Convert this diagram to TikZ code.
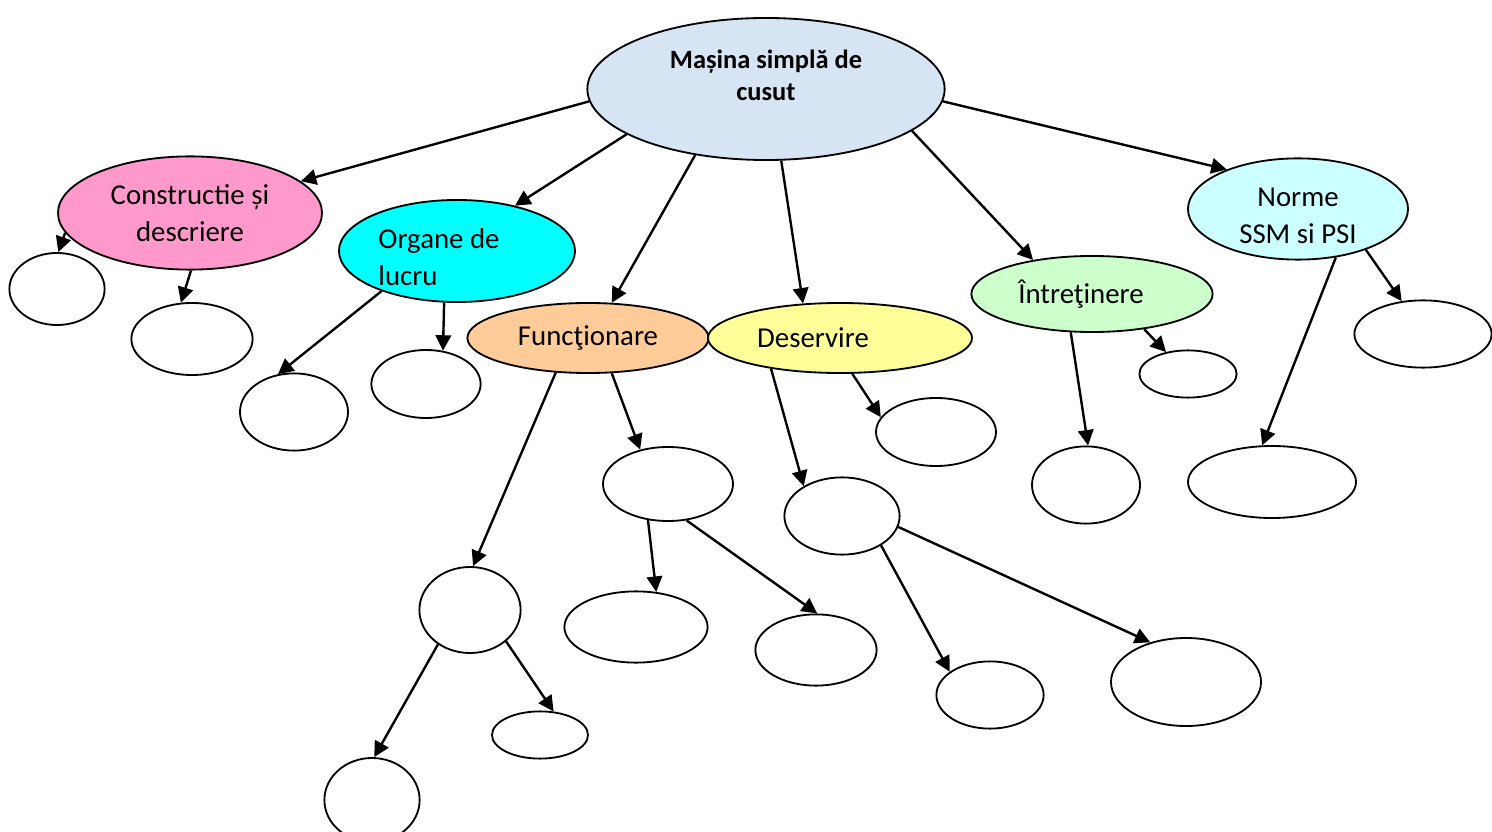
\documentclass[tikz,border=0pt]{standalone}
\usepackage{fontspec}
\setmainfont{Carlito}
\usepackage{xcolor}
\usepackage{tikz}
\usetikzlibrary{shapes,arrows.meta,positioning}

\definecolor{rootblue}{RGB}{214,228,243}
\definecolor{consfill}{RGB}{255,153,204}
\definecolor{orgfill}{RGB}{0,255,255}
\definecolor{funfill}{RGB}{255,204,153}
\definecolor{desfill}{RGB}{255,255,153}
\definecolor{intrfill}{RGB}{204,255,204}
\definecolor{normfill}{RGB}{204,255,255}

\begin{document}
\begin{tikzpicture}[
    x=0.025cm, y=-0.025cm,
    topic/.style={ellipse, draw, line width=1.3pt, inner sep=1pt, fill=rootblue, align=center, font=\bfseries\fontsize{18.8}{22.8}\selectfont},
    branch/.style={ellipse, draw, line width=1.3pt, inner sep=1pt, align=center, font=\fontsize{20.5}{26}\selectfont},
    leaf/.style={ellipse, draw, line width=1.3pt, inner sep=0pt},
    arr/.style={-{Triangle[length=11pt,width=11pt]}, line width=1.7pt}
]
    \useasboundingbox (0,0) rectangle (1492,832);
    \clip (0,0) rectangle (1492,832);

    % Root
    \node[topic, minimum width=8.93cm, minimum height=3.55cm] (root) at (766,89) {Mașina simplă de\\cusut\rule[-0.7cm]{0pt}{0pt}};

    % Branches
    \node[branch, fill=consfill, minimum width=6.6cm, minimum height=2.83cm] (cons) at (190,213) {Constructie și\\descriere};
    \node[branch, fill=orgfill, minimum width=5.9cm, minimum height=2.55cm, align=left] (org) at (457,251) {\rule{0pt}{0.8cm}Organe de\hspace*{0.9cm}\\lucru};
    \node[branch, fill=funfill, minimum width=6.03cm, minimum height=1.75cm] (fun) at (588,338) {Funcţionare};
    \node[branch, fill=desfill, minimum width=6.6cm, minimum height=1.75cm] (des) at (840,338) {Deservire\hspace{1.35cm}};
    \node[branch, fill=intrfill, minimum width=6.03cm, minimum height=1.9cm] (intr) at (1092,294) {Întreţinere\hspace{0.55cm}};
    \node[branch, fill=normfill, minimum width=5.5cm, minimum height=2.53cm] (norme) at (1298,209) {\rule{0pt}{0.8cm}Norme\\SSM si PSI};

    % Constructie leaves
    \node[leaf, minimum width=2.38cm, minimum height=1.8cm] (c1) at (57,289) {};
    \node[leaf, minimum width=3.03cm, minimum height=1.8cm] (c2) at (192,339) {};

    % Organe leaves
    \node[leaf, minimum width=2.7cm, minimum height=1.93cm] (o1) at (294,412) {};
    \node[leaf, minimum width=2.73cm, minimum height=1.7cm] (o2) at (426,384) {};

    % Functionare leaves
    \node[leaf, minimum width=3.25cm, minimum height=1.85cm] (f1) at (668,484) {};
    \node[leaf, minimum width=2.53cm, minimum height=2.15cm] (f2) at (470,610) {};
    \node[leaf, minimum width=3.58cm, minimum height=1.78cm] (f3) at (636,627) {};
    \node[leaf, minimum width=3.03cm, minimum height=1.78cm] (f4) at (816,650) {};
    \node[leaf, minimum width=2.4cm, minimum height=1.18cm] (f5) at (540,735) {};
    \node[leaf, minimum width=2.38cm, minimum height=2.1cm] (f6) at (372,800) {};

    % Deservire leaves
    \node[leaf, minimum width=2.88cm, minimum height=1.93cm] (d1) at (842,516) {};
    \node[leaf, minimum width=3cm, minimum height=1.7cm] (d2) at (936,432) {};
    \node[leaf, minimum width=2.68cm, minimum height=1.68cm] (d3) at (990,695) {};
    \node[leaf, minimum width=3.75cm, minimum height=2.2cm] (d4) at (1186,682) {};

    % Intretinere leaves
    \node[leaf, minimum width=2.43cm, minimum height=1.18cm] (i1) at (1188,374) {};
    \node[leaf, minimum width=2.7cm, minimum height=1.93cm] (i2) at (1086,485) {};

    % Norme leaves
    \node[leaf, minimum width=3.43cm, minimum height=1.68cm] (n1) at (1423,334) {};
    \node[leaf, minimum width=4.2cm, minimum height=1.8cm] (n2) at (1272,482) {};

    % Arrows from root
    \draw[arr] (root.184) -- (cons.16);
    \draw[arr] (root.198) -- (org.38);
    \draw[arr] (root.223) -- (fun.56);
    \draw[arr] (root.282) -- (des.137);
    \draw[arr] (root.344) -- (intr.150);
    \draw[arr] (root.356) -- (norme.151);

    % Arrows to leaves
    \draw[arr] (cons.189) -- (c1.88);
    \draw[arr] (cons.271) -- (c2.107);
    \draw[arr] (org.208) -- (o1.113);
    \draw[arr] (org.256) -- (o2.63);
    \draw[arr] (fun.227) -- (f2.86);
    \draw[arr] (fun.304) -- (f1.129);
    \draw[arr] (f1.241) -- (f3.60);
    \draw[arr] (f1.297) -- (f4.88);
    \draw[arr] (f2.227) -- (f6.87);
    \draw[arr] (f2.319) -- (f5.60);
    \draw[arr] (des.204) -- (d1.142);
    \draw[arr] (des.289) -- (d2.165);
    \draw[arr] (d1.323) -- (d3.150);
    \draw[arr] (d1.349) -- (d4.132);
    \draw[arr] (intr.241) -- (i2.87);
    \draw[arr] (intr.326) -- (i1.135);
    \draw[arr] (norme.308) -- (n2.105);
    \draw[arr] (norme.329) -- (n1.123);
\end{tikzpicture}
\end{document}
